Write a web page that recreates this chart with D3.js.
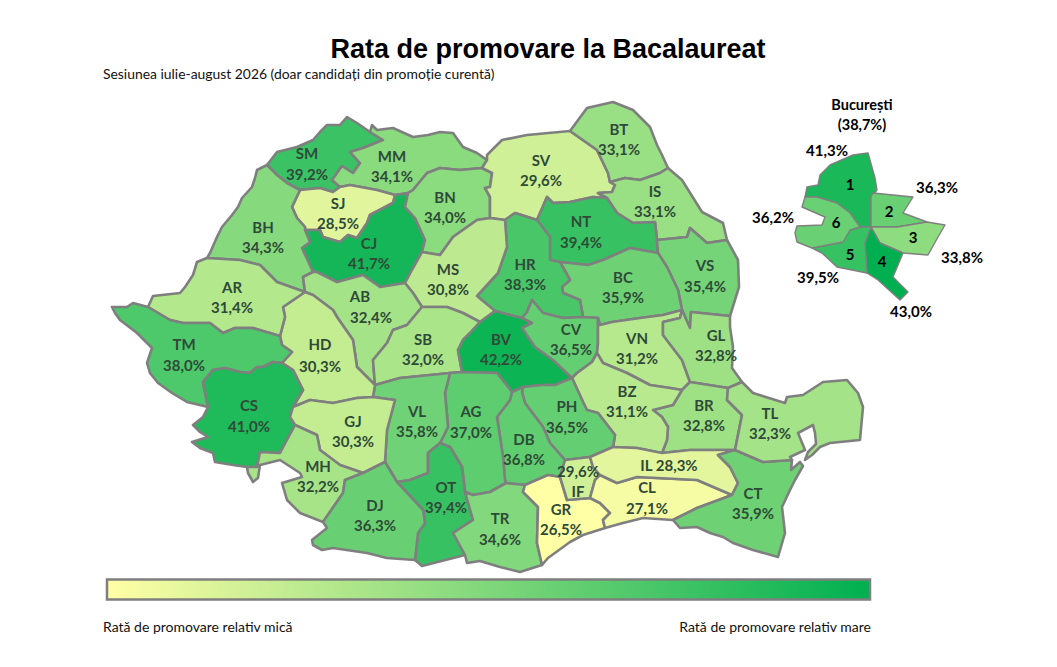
<!DOCTYPE html>
<html lang="ro"><head><meta charset="utf-8">
<script src="https://cdn.jsdelivr.net/npm/d3@7/dist/d3.min.js"></script>
<style>html,body{margin:0;padding:0;background:#fff}svg{display:block}</style></head>
<body><svg id="c" width="1057" height="667"></svg>
<script>
const countyCodes=["SM","MM","SJ","CJ","BH","BN","SV","BT","IS","NT","VS","BC","HR","MS","AB","SB","BV","CV","VN","GL","BR","BZ","PH","DB","AG","VL","OT","TR","GR","IF","CL","IL","CT","TL","HD","AR","TM","CS","GJ","MH","DJ"];
const countyRates=[39.2,34.1,28.5,41.7,34.3,34.0,29.6,33.1,33.1,39.4,35.4,35.9,38.3,30.8,32.4,32.0,42.2,36.5,31.2,32.8,32.8,31.1,36.5,36.8,37.0,35.8,39.4,34.6,26.5,29.6,27.1,28.3,35.9,32.3,30.3,31.4,38.0,41.0,30.3,32.2,36.3];
const sectorNames=["1","2","3","4","5","6"];
const sectorRates=[41.3,36.3,33.8,43.0,39.5,36.2];
const cityName="București", cityRate=38.7;
const titleText="Rata de promovare la Bacalaureat";
const subtitleText="Sesiunea iulie-august 2026 (doar candidați din promoție curentă)";
const legendLow="Rată de promovare relativ mică", legendHigh="Rată de promovare relativ mare";
const fmt=v=>v.toFixed(1).replace(".",",")+"%";

// Map geometry: shared county borders, in map units
const borders={
SM_out:[[267,165],[277,152],[297,147],[313,140],[320,132],[327,125],[340,125],[347,117],[357,123],[370,132]],
SM_MM:[[370,132],[383,140],[363,148],[350,152],[360,163],[353,173],[342,166],[332,180],[340,187]],
SM_SJ:[[340,187],[333,192],[320,188],[300,190]],
SM_BH:[[300,190],[287,183],[277,175],[267,165]],
MM_out:[[370,132],[372,125],[377,130],[393,128],[413,137],[428,135],[440,132],[453,133],[463,147],[477,153],[487,160]],
MM_SV:[[487,160],[482,168]],
MM_BN:[[482,168],[460,170],[440,168],[427,173],[413,190],[408,193]],
MM_CJ:[[408,193],[395,195]],
MM_SJ:[[395,195],[377,190],[350,185],[340,187]],
CJ_SJ:[[305,230],[320,230],[323,237],[340,242],[348,235],[357,238],[367,223],[370,215],[393,203],[395,195]],
SJ_BH:[[300,190],[292,207],[297,218],[305,227],[305,230]],
CJ_BN:[[408,193],[405,207],[415,218],[425,240],[422,252]],
CJ_MS:[[422,252],[413,268],[405,283]],
CJ_AB:[[405,283],[380,287],[363,275],[337,282],[317,272],[313,272]],
CJ_BH:[[313,272],[302,248],[310,242],[305,230]],
BH_out:[[267,165],[257,170],[255,178],[252,187],[242,198],[238,207],[232,215],[222,227],[217,237],[210,253],[207,258]],
BH_AR:[[207,258],[240,260],[260,265],[277,282],[305,292]],
BH_AB:[[305,292],[303,277],[313,272]],
BN_SV:[[482,168],[492,173],[490,187],[485,188],[490,197],[490,218]],
BN_MS:[[490,218],[477,220],[453,237],[440,255],[422,252]],
SV_out:[[487,160],[487,155],[502,140],[527,135],[570,131]],
SV_BT:[[570,131],[597,150],[608,173],[610,182]],
SV_IS:[[610,182],[615,185],[612,192],[598,193],[607,198]],
SV_NT:[[607,198],[593,197],[570,202],[553,203],[547,197],[537,220]],
SV_HR:[[537,220],[515,213],[505,220]],
SV_MS:[[505,220],[490,218]],
BT_out:[[570,131],[587,108],[613,102],[633,110],[650,127],[657,145],[662,155],[668,168]],
BT_IS:[[610,182],[625,178],[640,180],[660,173],[668,168]],
IS_out:[[668,168],[682,180],[702,212],[723,223],[727,240]],
IS_VS:[[727,240],[707,243],[690,228],[687,237],[657,240]],
IS_NT:[[657,240],[655,222],[633,223],[617,213],[607,198]],
NT_VS:[[657,240],[658,253]],
NT_BC:[[658,253],[630,248],[603,260],[588,265],[560,262]],
NT_HR:[[560,262],[550,260],[550,237],[537,220]],
VS_out:[[727,240],[738,260],[739,287],[730,316]],
GL_VS:[[682,310],[690,328],[691,312],[730,316]],
VS_BC:[[682,310],[678,290],[667,267],[658,253]],
BC_HR:[[560,262],[570,280],[562,287],[563,293],[580,300],[583,317]],
BC_CV:[[583,317],[598,318]],
BC_VN:[[598,318],[600,325],[612,322],[640,318],[663,315],[682,310]],
HR_CV:[[522,318],[527,312],[532,300],[543,313],[563,318],[583,317]],
HR_BV:[[495,311],[510,315],[522,318]],
HR_MS:[[495,311],[477,296],[498,273],[507,247],[505,220]],
MS_AB:[[405,283],[413,293],[422,307]],
MS_SB:[[422,307],[447,307],[463,313],[480,322]],
MS_BV:[[480,322],[495,311]],
AB_SB:[[422,307],[407,325],[393,330],[387,343],[373,360],[375,385]],
AB_HD:[[305,292],[313,295],[333,310],[337,317],[353,340],[357,367],[375,385]],
SB_VL:[[375,385],[400,378],[450,373]],
SB_AG:[[450,373],[462,372]],
SB_BV:[[480,322],[470,333],[463,340],[458,350],[462,372]],
BV_AG:[[462,372],[497,373],[512,392]],
BV_DB:[[512,392],[523,387]],
BV_PH:[[523,387],[542,385],[555,385],[572,378]],
BV_CV:[[522,318],[532,323],[522,328],[535,347],[553,360],[572,378]],
CV_VN:[[598,318],[598,343],[597,353]],
CV_BZ:[[597,353],[592,362],[577,373],[572,378]],
VN_GL:[[682,310],[680,318],[663,322],[663,335],[682,360],[690,382]],
VN_BR:[[690,382],[682,390]],
VN_BZ:[[597,353],[603,363],[627,373],[650,385],[670,388],[682,390]],
GL_out:[[730,316],[730,327],[733,347],[732,368],[742,382]],
GL_TL:[[742,382],[728,388]],
GL_BR:[[728,388],[690,382]],
BR_TL:[[728,388],[727,400],[742,415],[735,450]],
BR_IL:[[735,450],[690,450],[662,453]],
BZ_BR:[[682,390],[673,405],[653,410],[662,417],[668,427],[667,440],[662,453]],
BZ_IL:[[662,453],[637,448],[613,447]],
BZ_PH:[[572,378],[583,402],[587,410],[598,413],[615,435],[613,447]],
PH_IL:[[613,447],[590,457]],
PH_IF:[[590,457],[565,460]],
PH_DB:[[523,387],[522,392],[525,403],[543,427],[550,443],[565,460]],
DB_IF:[[565,460],[560,477]],
DB_GR:[[525,485],[548,475],[560,477]],
DB_AG:[[512,392],[510,400],[497,417],[503,457],[505,480],[506,483]],
DB_TR:[[506,483],[525,485]],
AG_TR:[[506,483],[490,492],[473,495],[465,492]],
AG_OT:[[440,443],[450,447],[462,467],[465,492]],
VL_AG:[[450,373],[445,393],[448,427],[440,443]],
VL_OT:[[397,482],[410,480],[428,473],[428,453],[440,443]],
VL_DJ:[[385,462],[397,482]],
GJ_VL:[[373,397],[395,400],[387,430],[385,462]],
HD_VL:[[373,397],[375,385]],
OT_TR:[[465,492],[473,520],[453,533],[465,555]],
OT_out:[[415,560],[422,566],[465,555]],
OT_DJ:[[397,482],[423,510],[425,523],[418,533],[415,560]],
TR_out:[[465,555],[467,563],[480,561],[500,567],[520,572],[542,565]],
TR_GR:[[525,485],[523,492],[538,507],[537,543],[542,565]],
GR_out:[[542,565],[548,558],[570,542],[583,535],[605,528]],
GR_CL:[[605,528],[603,520],[610,513],[600,503],[590,498]],
GR_IF:[[560,477],[567,500],[590,498]],
IF_IL:[[590,457],[593,467],[600,475]],
IF_CL:[[590,498],[595,480],[600,475]],
CL_IL:[[600,475],[617,483],[637,477],[697,480],[732,495]],
CL_CT:[[732,495],[697,508],[673,520]],
CL_out:[[605,528],[623,523],[643,518],[673,520]],
IL_CT:[[735,450],[718,455],[730,467],[738,483],[732,495]],
CT_TL:[[735,450],[763,462],[792,460]],
CT_out:[[792,460],[791,470],[800,462],[803,466],[795,480],[790,490],[782,507],[785,533],[778,557],[753,550],[733,543],[723,537],[710,533],[697,527],[680,528],[673,520]],
TL_out:[[742,382],[753,393],[785,403],[787,397],[803,395],[823,382],[847,380],[858,393],[863,407],[860,440],[830,443],[820,447],[812,455],[805,460],[808,452],[816,444],[815,433],[813,425],[798,433],[805,450],[790,457],[792,460]],
HD_GJ:[[373,397],[357,398],[333,403],[310,400],[293,407]],
HD_CS:[[293,407],[303,390],[293,370],[282,363]],
HD_TM:[[282,363],[292,352],[282,345],[280,336]],
AR_HD:[[280,336],[285,317],[283,307],[305,292]],
AR_TM:[[148,307],[170,320],[183,323],[210,323],[223,333],[235,328],[253,328],[280,336]],
AR_out:[[207,258],[197,262],[193,275],[185,287],[180,293],[153,296],[148,307]],
TM_CS:[[282,363],[273,362],[263,367],[257,367],[250,373],[240,372],[225,368],[213,370],[203,382],[208,407]],
TM_out:[[148,307],[133,303],[127,307],[112,307],[115,313],[120,320],[137,333],[152,348],[147,363],[150,373],[158,383],[172,393],[187,402],[208,407]],
CS_out:[[208,407],[203,417],[193,425],[200,432],[208,437],[192,442],[200,448],[213,453],[215,462],[233,465],[247,467]],
CS_GJ:[[293,407],[290,417],[295,425]],
CS_MH:[[295,425],[280,453],[260,452],[257,467],[247,467]],
MH_GJ:[[295,425],[317,435],[320,450],[340,465],[363,473]],
MH_DJ:[[363,473],[345,480],[343,493],[323,522]],
MH_out:[[247,467],[248,473],[253,482],[258,478],[260,465],[280,460],[300,473],[302,477],[282,483],[287,500],[300,513],[323,522]],
GJ_DJ:[[385,462],[363,473]],
DJ_out:[[323,522],[327,528],[312,540],[313,545],[322,550],[333,548],[367,553],[387,558],[415,560]]
};
const rings={
SM:"SM_out SM_MM SM_SJ SM_BH",
MM:"MM_out MM_SV MM_BN MM_CJ MM_SJ -SM_MM",
SJ:"-SM_SJ -MM_SJ -CJ_SJ -SJ_BH",
CJ:"CJ_SJ -MM_CJ CJ_BN CJ_MS CJ_AB CJ_BH",
BH:"BH_out BH_AR BH_AB CJ_BH -SJ_BH SM_BH",
BN:"-MM_BN BN_SV BN_MS -CJ_BN",
SV:"SV_out SV_BT SV_IS SV_NT SV_HR SV_MS -BN_SV -MM_SV",
BT:"BT_out -BT_IS -SV_BT",
IS:"IS_out IS_VS IS_NT -SV_IS BT_IS",
NT:"-SV_NT -IS_NT NT_VS NT_BC NT_HR",
VS:"-IS_VS VS_out -GL_VS VS_BC -NT_VS",
BC:"NT_BC BC_HR BC_CV BC_VN VS_BC",
HR:"-NT_HR BC_HR -HR_CV -HR_BV HR_MS -SV_HR",
MS:"BN_MS CJ_MS MS_AB MS_SB MS_BV HR_MS SV_MS",
AB:"-CJ_AB MS_AB AB_SB -AB_HD BH_AB",
SB:"AB_SB SB_VL SB_AG -SB_BV -MS_SB",
BV:"SB_BV BV_AG BV_DB BV_PH -BV_CV -HR_BV -MS_BV",
CV:"HR_CV BC_CV CV_VN CV_BZ -BV_CV",
VN:"BC_VN VN_GL VN_BR -VN_BZ -CV_VN",
GL:"GL_VS GL_out GL_TL GL_BR -VN_GL",
BR:"-GL_BR BR_TL BR_IL -BZ_BR -VN_BR",
BZ:"VN_BZ BZ_BR BZ_IL -BZ_PH -CV_BZ",
PH:"BV_PH BZ_PH PH_IL PH_IF -PH_DB",
DB:"-BV_DB DB_AG DB_TR DB_GR -DB_IF -PH_DB",
AG:"SB_AG BV_AG DB_AG AG_TR -AG_OT -VL_AG",
VL:"SB_VL VL_AG -VL_OT -VL_DJ -GJ_VL HD_VL",
OT:"VL_OT AG_OT OT_TR -OT_out -OT_DJ",
TR:"-AG_TR DB_TR TR_GR -TR_out -OT_TR",
GR:"-DB_GR TR_GR GR_out GR_CL -GR_IF",
IF:"-PH_IF IF_IL -IF_CL -GR_IF -DB_IF",
CL:"IF_CL CL_IL CL_CT -CL_out GR_CL",
IL:"-BZ_IL -BR_IL IL_CT -CL_IL -IF_IL -PH_IL",
CT:"-IL_CT CT_TL CT_out -CL_CT",
TL:"-GL_TL TL_out -CT_TL -BR_TL",
HD:"AB_HD -HD_VL HD_GJ HD_CS HD_TM AR_HD",
AR:"BH_AR -AR_HD -AR_TM -AR_out",
TM:"AR_TM -HD_TM TM_CS -TM_out",
CS:"-TM_CS -HD_CS CS_GJ CS_MH -CS_out",
GJ:"-HD_GJ GJ_VL GJ_DJ -MH_GJ -CS_GJ",
MH:"-CS_MH MH_GJ MH_DJ -MH_out",
DJ:"-MH_DJ -GJ_DJ VL_DJ OT_DJ -DJ_out"
};
const sectorShapes=[
[[805,197],[807,187],[818,185],[820,175],[830,165],[853,155],[868,153],[875,178],[877,190],[871,197],[871,227],[860,227],[850,213],[837,203],[817,197]],
[[873,193],[913,197],[903,213],[927,222],[897,227],[871,227],[871,197]],
[[871,227],[897,227],[927,222],[945,225],[938,237],[928,255],[903,253],[880,243]],
[[871,227],[880,243],[903,253],[893,277],[908,292],[900,300],[878,280],[867,273],[865,243]],
[[850,230],[860,227],[871,227],[865,243],[867,273],[837,267],[822,253],[812,248],[843,242]],
[[805,197],[817,197],[837,203],[850,213],[860,227],[850,230],[843,242],[812,248],[797,242],[795,233],[797,226],[822,225],[825,217],[802,207]]
];
const labelSpots={SM:[307,154,21],MM:[392,157,20],SJ:[338,204,20],CJ:[369,244,20],BH:[263,228,20],BN:[445,198,20],SV:[541,161,20],BT:[619,130,20],IS:[655,192,20],NT:[581,222,21],VS:[705,266,21],BC:[623,278,20],HR:[525,265,20],MS:[448,270,20],AB:[360,297,21,11],SB:[423,340,20],BV:[501,340,20],CV:[571,330,20],VN:[637,339,20],GL:[716,336,20],BR:[704,406,20],BZ:[627,392,20],PH:[567,407,21],DB:[524,440,20],AG:[471,412,21],VL:[417,412,20],OT:[446,488,20],TR:[500,519,21],GR:[561,510,20],IF:[578,492,-20],CL:[647,488,21],CT:[753,494,20],TL:[770,414,20],HD:[320,345,22],AR:[232,288,20],TM:[184,345,21],CS:[249,406,21],GJ:[353,422,20],MH:[318,467,20],DJ:[375,506,20]};
const sectorSpots=[[850,185,827,151],[889,212,937,188],[913,238,962,258],[882,262,911,312],[850,255,818,278],[836,223,773,218]];

const svg=d3.select("#c");
const color=d3.scaleLinear().domain([26.5,43]).range(["#ffffa6","#00b050"]).interpolate(d3.interpolateRgb);
const path=d3.geoPath(d3.geoIdentity());
const ringOf=s=>{const pts=[];s.split(" ").forEach(n=>{const rev=n[0]==="-";const a=borders[n.replace("-","")];(rev?[...a].reverse():a).forEach(p=>pts.push(p));});pts.push(pts[0]);return pts;};
const counties=countyCodes.map((c,i)=>({type:"Feature",properties:{code:c,rate:countyRates[i]},geometry:{type:"Polygon",coordinates:[ringOf(rings[c])]}}));
const sectors=sectorNames.map((n,i)=>({type:"Feature",properties:{name:n,rate:sectorRates[i]},geometry:{type:"Polygon",coordinates:[[...sectorShapes[i],sectorShapes[i][0]]]}}));

svg.append("g").selectAll("path").data(counties).join("path").attr("d",path)
 .attr("fill",d=>color(d.properties.rate)).attr("stroke","#7f7f7f").attr("stroke-width",2.6).attr("stroke-linejoin","round");
svg.append("g").selectAll("path").data(sectors).join("path").attr("d",path)
 .attr("fill",d=>color(d.properties.rate)).attr("stroke","#7f7f7f").attr("stroke-width",1.4).attr("stroke-linejoin","round");

const LF="Lato, 'Open Sans', sans-serif";
const lab=svg.append("g").attr("font-family",LF).attr("font-weight",700).attr("font-size",15).attr("fill","#2f4a38").attr("text-anchor","middle");
counties.forEach(f=>{
  const c=f.properties.code;
  if(c==="IL"){lab.append("text").attr("x",669).attr("y",471).text("IL "+fmt(f.properties.rate));return;}
  const [x,y,dy,vx=0]=labelSpots[c];
  lab.append("text").attr("x",x).attr("y",y+5).text(c);
  lab.append("text").attr("x",x+vx).attr("y",y+5+dy).text(fmt(f.properties.rate));
});
const blk=svg.append("g").attr("font-family",LF).attr("font-weight",700).attr("font-size",15).attr("fill","#000").attr("text-anchor","middle");
sectors.forEach((f,i)=>{
  const s=sectorSpots[i];
  blk.append("text").attr("x",s[0]).attr("y",s[1]+5).text(f.properties.name);
  blk.append("text").attr("x",s[2]).attr("y",s[3]+5).text(fmt(f.properties.rate));
});
blk.append("text").attr("x",862).attr("y",110).attr("font-size",14.5).text(cityName);
blk.append("text").attr("x",862).attr("y",130).attr("font-size",14.5).text("("+fmt(cityRate)+")");

svg.append("text").attr("x",548).attr("y",58).attr("text-anchor","middle").attr("font-family","'Liberation Sans',Arial,sans-serif").attr("font-weight",700).attr("font-size",27).attr("fill","#000").text(titleText);
svg.append("text").attr("x",103).attr("y",79).attr("font-family",LF).attr("font-size",13.9).attr("fill","#111").text(subtitleText);

const grad=svg.append("defs").append("linearGradient").attr("id","lg");
color.domain().forEach((v,i,a)=>grad.append("stop").attr("offset",i/(a.length-1)).attr("stop-color",color(v)));
svg.append("rect").attr("x",107).attr("y",579.5).attr("width",763).attr("height",20).attr("fill","url(#lg)").attr("stroke","#7f7f7f").attr("stroke-width",2.5);
svg.append("text").attr("x",103).attr("y",632).attr("font-family",LF).attr("font-size",14).attr("fill","#111").text(legendLow);
svg.append("text").attr("x",871).attr("y",632).attr("text-anchor","end").attr("font-family",LF).attr("font-size",14).attr("fill","#111").text(legendHigh);
</script></body></html>
